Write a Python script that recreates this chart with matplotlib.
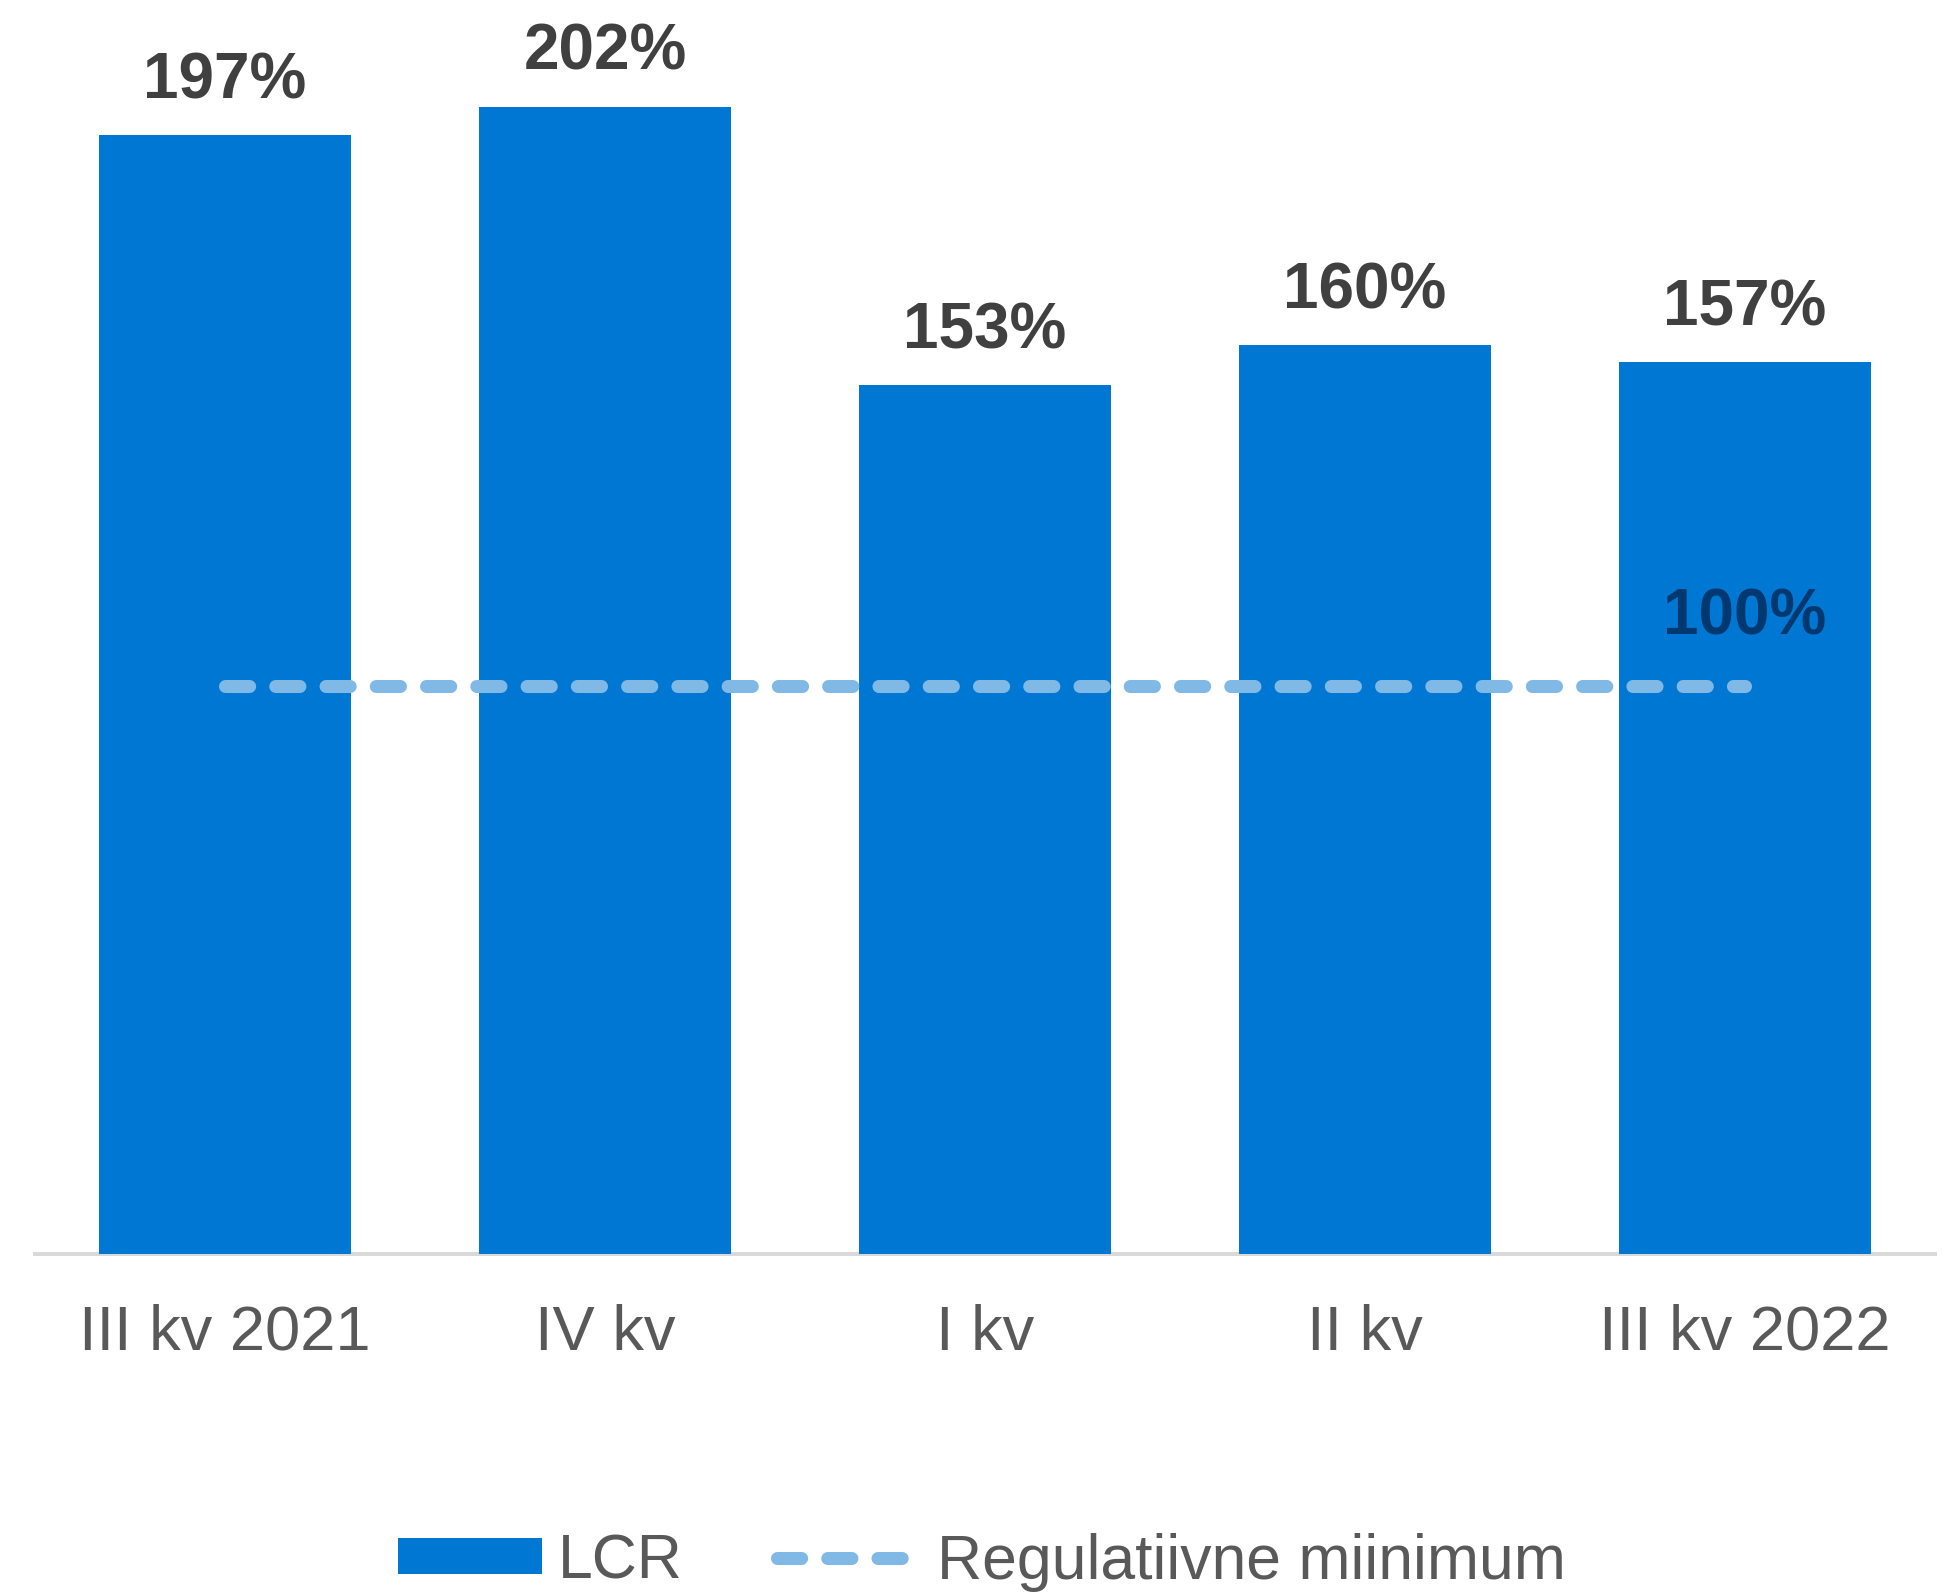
import matplotlib
matplotlib.use("Agg")
import matplotlib.pyplot as plt
from matplotlib.patches import Patch
from matplotlib.lines import Line2D

categories = ["III kv 2021", "IV kv", "I kv", "II kv", "III kv 2022"]
lcr = [197, 202, 153, 160, 157]
minimum = [100, 100, 100, 100, 100]
lcr_labels = ["197%", "202%", "153%", "160%", "157%"]
min_label = "100%"

plt.rcParams['font.family'] = ['Liberation Sans', 'DejaVu Sans']

BAR = "#0077D2"
LINE = "#80B9E6"

fig = plt.figure(figsize=(19.42, 15.93), dpi=100)
ax = fig.add_axes([35/1942, 1-1254/1593, 1900/1942, 220*5.68/1593])

x = list(range(len(categories)))
ax.bar(x, lcr, width=0.663, color=BAR, zorder=3)
ax.plot(x, minimum, color=LINE, lw=9.4, dashes=(1.85, 2.0),
        dash_capstyle='round', zorder=4)

for xi, v, lab in zip(x, lcr, lcr_labels):
    ax.annotate(lab, (xi, v), xytext=(0, 26.6), textcoords='offset points',
                ha='center', va='baseline', fontsize=46, fontweight='bold',
                color='#404040', zorder=5)
ax.annotate(min_label, (x[-1], minimum[-1]), xytext=(0, 37.4),
            textcoords='offset points', ha='center', va='baseline',
            fontsize=46, fontweight='bold', color='#00386F', zorder=5)

ax.set_xlim(-0.5, len(categories) - 0.5)
ax.set_ylim(0, 220)
for s in ['top', 'right', 'left']:
    ax.spines[s].set_visible(False)
ax.spines['bottom'].set_color('#D9D9D9')
ax.spines['bottom'].set_linewidth(2.9)
ax.spines['bottom'].set_zorder(2)
ax.set_yticks([])
ax.set_xticks(x)
ax.set_xticklabels(categories, fontsize=45.5, color='#595959')
ax.tick_params(axis='x', length=0, pad=36)

handles = [Patch(facecolor=BAR, edgecolor='none'),
           Line2D([0], [0], color=LINE, lw=9.4, dashes=(1.85, 2.0),
                  dash_capstyle='round')]
leg = fig.legend(handles, ["LCR", "Regulatiivne miinimum"], loc='center',
                 bbox_to_anchor=(982/1942, 1-1562/1593), ncol=2, frameon=False,
                 fontsize=45, handlelength=2.3, handleheight=0.51,
                 handletextpad=0.26, columnspacing=1.5, borderpad=0,
                 borderaxespad=0)
for t in leg.get_texts():
    t.set_color('#595959')

fig.savefig("out.png", dpi=100)
